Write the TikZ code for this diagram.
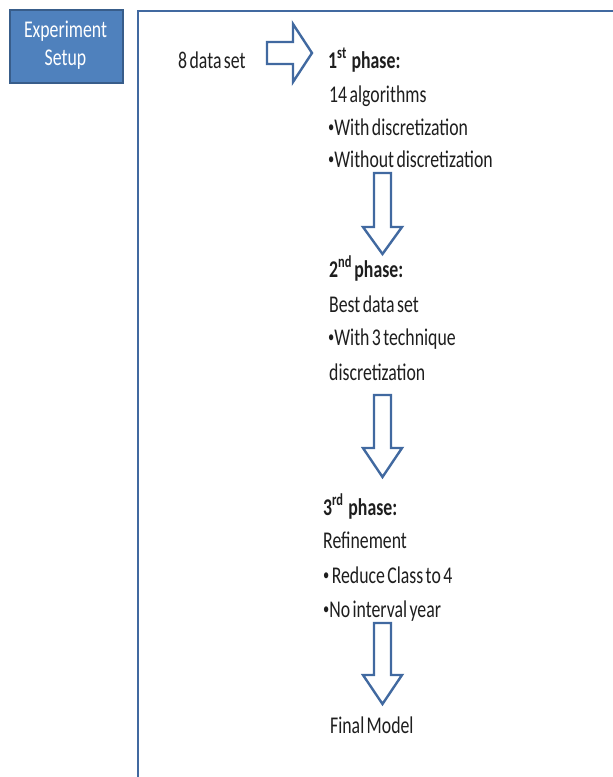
\documentclass[tikz,border=0pt]{standalone}
\usepackage{fontspec}
\setmainfont{Carlito}[FakeStretch=0.74,WordSpace=0.6]
\definecolor{boxfill}{RGB}{79,129,189}
\definecolor{boxline}{RGB}{56,93,138}
\definecolor{arrline}{RGB}{65,105,160}
\definecolor{txt}{RGB}{30,30,30}
\newcommand\mybul{\raisebox{0.12em}{\scalebox{0.7}{•}}}
\tikzset{
  line/.style={anchor=base west,inner sep=0pt,text=txt,font=\fontsize{24}{28}\selectfont},
  blockarrow/.style={draw=arrline,line width=2.4pt,fill=white,line join=miter},
  frameline/.style={draw=arrline,line width=2.4pt},
}
\begin{document}
\begin{tikzpicture}[x=1pt,y=-1pt]
\clip (0,0) rectangle (613,777);
\fill[white] (0,0) rectangle (613,777);
% frame
\draw[frameline] (138,800) -- (138,11) -- (630,11);
% experiment setup box
\node[draw=boxline,fill=boxfill,line width=1.5pt,minimum width=113pt,minimum height=73pt,anchor=north west,inner sep=0pt] (setup) at (9,9) {};
\node[anchor=base,inner sep=0pt,text=white,font=\fontsize{24}{28}\selectfont] (setupa) at (65.5,37) {Experiment};
\node[anchor=base,inner sep=0pt,text=white,font=\fontsize{24}{28}\selectfont] (setupb) at (65.5,65) {Setup};
% input
\node[line] (ds) at (178,68) {8 data set};
% right arrow
\draw[blockarrow] (267,42) -- (293,42) -- (293,24) -- (312,53) -- (293,82) -- (293,64) -- (267,64) -- cycle;
% phase 1
\node[line] (p1) at (328,68) {\textbf{1\textsuperscript{st}\ \ phase:}};
\node[line] (p1a) at (329,102) {14 algorithms};
\node[line] (p1b) at (328,135) {\mybul With discretization};
\node[line] (p1c) at (328,167) {\mybul Without discretization};
% arrow 1
\draw[blockarrow] (374,173) -- (391,173) -- (391,227) -- (402,227) -- (382.5,254) -- (363,227) -- (374,227) -- cycle;
% phase 2
\node[line] (p2) at (329,277) {\textbf{2\textsuperscript{nd} phase:}};
\node[line] (p2a) at (329,312) {Best data set};
\node[line] (p2b) at (328,345) {\mybul With 3 technique};
\node[line] (p2c) at (329,380) {discretization};
% arrow 2
\draw[blockarrow] (374,395) -- (391,395) -- (391,448) -- (402,448) -- (382.5,477) -- (363,448) -- (374,448) -- cycle;
% phase 3
\node[line] (p3) at (323,515) {\textbf{3\textsuperscript{rd}\ \ phase:}};
\node[line] (p3a) at (323,548) {Refinement};
\node[line] (p3b) at (323,583) {\mybul\ Reduce Class to 4};
\node[line] (p3c) at (323,617) {\mybul No interval year};
% arrow 3
\draw[blockarrow] (374,623) -- (391,623) -- (391,675) -- (402,675) -- (382.5,704) -- (363,675) -- (374,675) -- cycle;
% final
\node[line] (fin) at (330,733) {Final Model};
\end{tikzpicture}
\end{document}
